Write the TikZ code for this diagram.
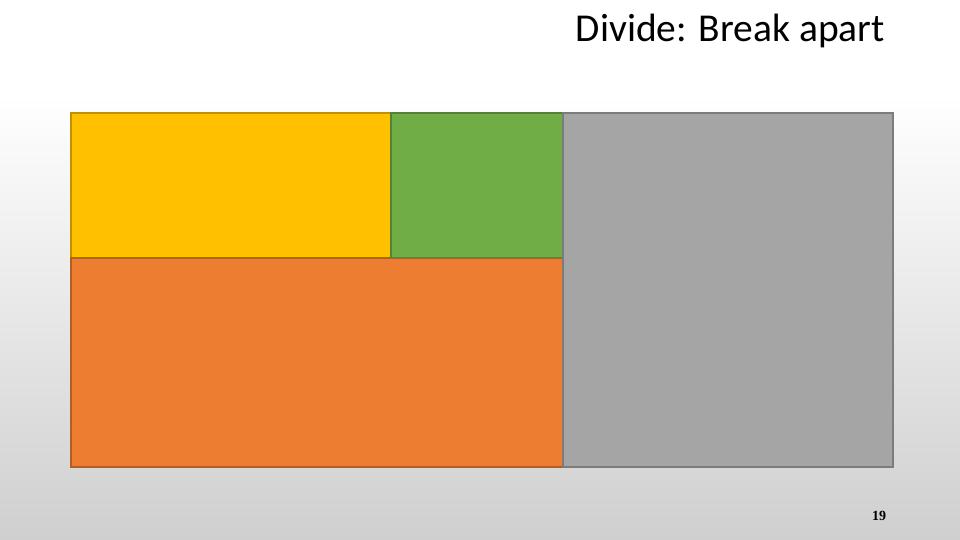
\documentclass[tikz,border=0pt]{standalone}
\usepackage{fontspec}
\setmainfont{Carlito}
\newfontfamily\numfont{Liberation Serif}
\usetikzlibrary{positioning}
\definecolor{tileyellow}{HTML}{FFC000}
\definecolor{tilegreen}{HTML}{70AD47}
\definecolor{tileorange}{HTML}{ED7D31}
\definecolor{tilegray}{HTML}{A5A5A5}
\definecolor{slidebottom}{HTML}{CFCFCF}
\tikzset{
	tile/.style={rectangle, line width=1.6pt, inner sep=0pt, outer sep=0pt, anchor=north west}
}
\tikzset{
	titletext/.style={font=\fontsize{39.5}{46}\selectfont, anchor=base east, inner sep=0pt}
}
\begin{document}
\begin{tikzpicture}[x=1pt, y=-1pt]
      % slide background
      \useasboundingbox (0,0) rectangle (960,540);
      \fill[white] (0,0) rectangle (960,95);
      \shade[top color=white, bottom color=slidebottom] (0,95) rectangle (960,540);
      \node[titletext] (title) at (885,42) {Divide: Break apart};
      % tiles
      \node[tile, fill=tileyellow, draw=tileyellow!75!black, minimum width=320pt, minimum height=145pt] (yellow) at (71,113) {};
      \node[tile, fill=tilegreen, draw=tilegreen!75!black, minimum width=172pt, minimum height=145pt] (green) at (yellow.north east) {};
      \node[tile, fill=tileorange, draw=tileorange!75!black, minimum width=492pt, minimum height=209pt] (orange) at (yellow.south west) {};
      \node[tile, fill=tilegray, draw=tilegray!75!black, minimum width=330pt, minimum height=354pt] (gray) at (green.north east) {};
      \node[font=\numfont\bfseries\fontsize{14}{16}\selectfont, inner sep=0pt, anchor=base] (page) at (879,520) {19};
    \end{tikzpicture}
\end{document}
